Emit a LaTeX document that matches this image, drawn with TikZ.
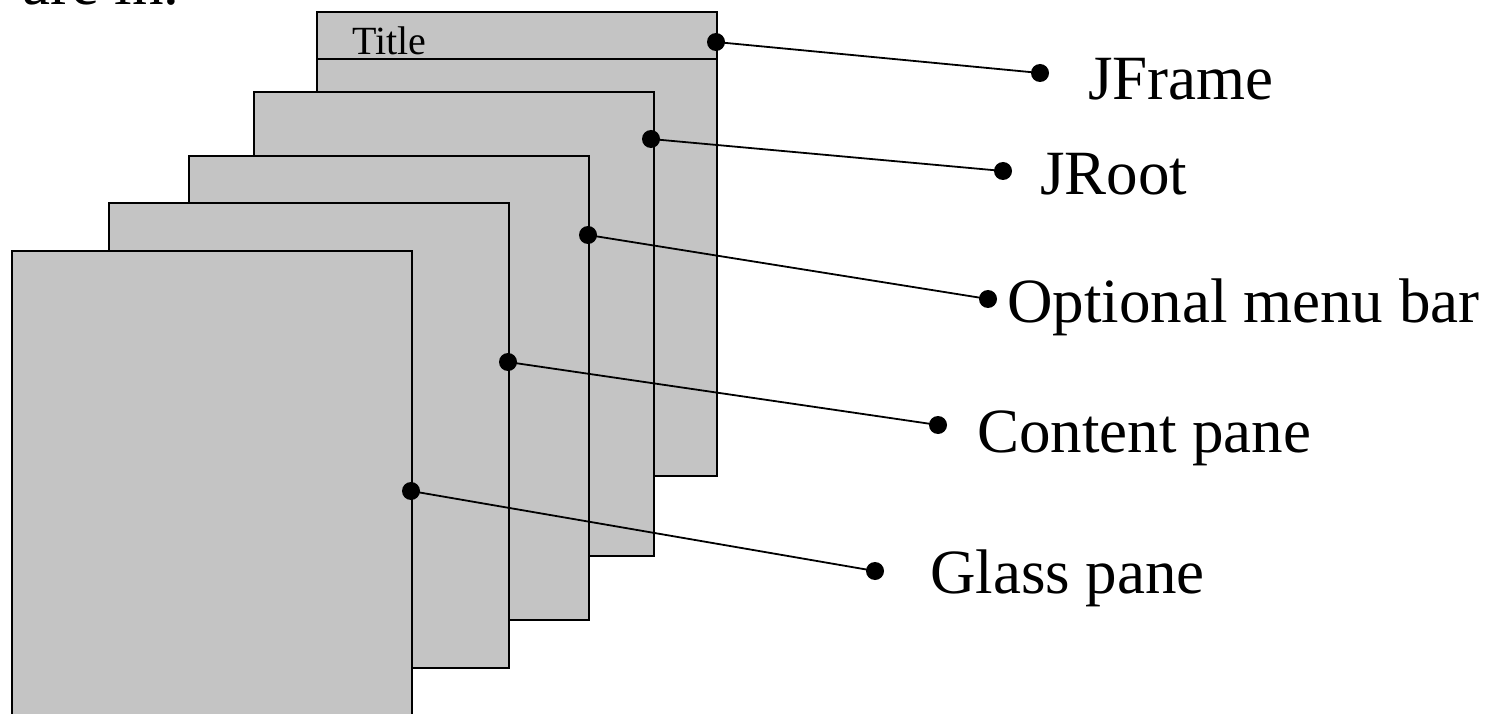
\documentclass[tikz,border=0pt]{standalone}
\usepackage{fontspec}
\setmainfont{Liberation Serif}
\definecolor{panegray}{HTML}{C4C4C4}
\tikzset{
  pane/.style={draw=black, fill=panegray, line width=2pt, inner sep=0pt, anchor=north west, minimum width=400pt, minimum height=463pt},
  dot/.style={circle, fill=black, inner sep=0pt, minimum size=18pt},
  conn/.style={line width=1.8pt},
  lbl/.style={anchor=base west, inner sep=0pt, font=\fontsize{63}{70}\selectfont},
}
\begin{document}
\begin{tikzpicture}[x=1pt,y=-1pt]
\useasboundingbox (0,0) rectangle (1500,714);
\clip (0,0) rectangle (1500,714);
\node[lbl] (arein) at (22,5) {are in.};
% panes back to front
\node[pane, minimum height=464pt] (jframe) at (316,11) {};
\draw[line width=2pt] (jframe.west |- 0,59) coordinate (tl) -- (jframe.east |- 0,59) coordinate (tr);
\node[anchor=base west, inner sep=0pt, font=\fontsize{40}{44}\selectfont] (title) at (352,55) {Title};
\node[pane, minimum width=400pt, minimum height=464pt] (jroot) at (253,91) {};
\node[pane, minimum height=464pt] (menu) at (188,155) {};
\node[pane, minimum height=465pt] (content) at (108,202) {};
\node[pane, minimum width=400pt, minimum height=480pt] (glass) at (11,250) {};
% dots
\node[dot] (d1a) at (716,42) {};
\node[dot] (d1b) at (1040,73) {};
\node[dot] (d2a) at (651,139) {};
\node[dot] (d2b) at (1003,171) {};
\node[dot] (d3a) at (588,235) {};
\node[dot] (d3b) at (988,299) {};
\node[dot] (d4a) at (508,362) {};
\node[dot] (d4b) at (938,425) {};
\node[dot] (d5a) at (411,491) {};
\node[dot] (d5b) at (875,571) {};
\draw[conn] (d1a.center) -- (d1b.center);
\draw[conn] (d2a.center) -- (d2b.center);
\draw[conn] (d3a.center) -- (d3b.center);
\draw[conn] (d4a.center) -- (d4b.center);
\draw[conn] (d5a.center) -- (d5b.center);
% labels
\node[lbl] (ljframe) at (1088,100) {JFrame};
\node[lbl] (ljroot) at (1040,195) {JRoot};
\node[lbl] (lmenu) at (1007,323) {Optional menu bar};
\node[lbl] (lcontent) at (977,452) {Content pane};
\node[lbl] (lglass) at (930,593) {Glass pane};
\end{tikzpicture}
\end{document}
